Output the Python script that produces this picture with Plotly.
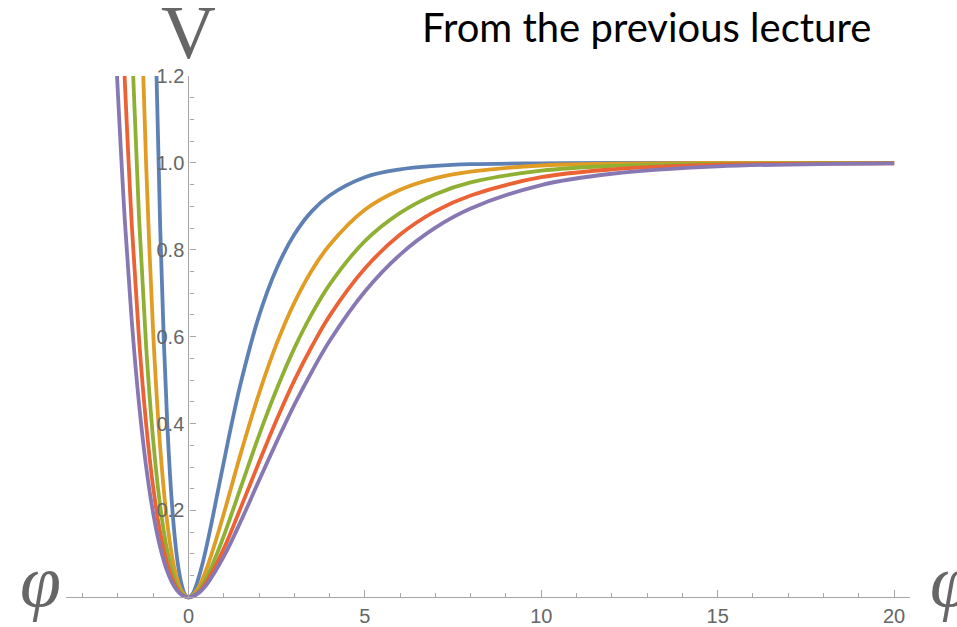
import plotly.graph_objects as go

# Values (phi, V) for the five curves
phi_1 = [-0.92, -0.8, -0.7, -0.6, -0.5, -0.4, -0.3, -0.2, -0.1, 0, 0.1, 0.2, 0.4, 0.6, 0.8, 1.0, 1.25, 1.5, 2, 2.5, 3, 3.5, 4, 5, 6, 7, 8, 10, 12, 15, 20]
V_1 = [1.254, 0.850, 0.595, 0.400, 0.254, 0.149, 0.077, 0.032, 0.007, 0, 0.006, 0.023, 0.078, 0.150, 0.230, 0.311, 0.409, 0.499, 0.648, 0.757, 0.835, 0.889, 0.925, 0.967, 0.985, 0.993, 0.997, 0.999, 1.0, 1.0, 1.0]

phi_2 = [-1.3, -1.2, -1.0, -0.8, -0.6, -0.4, -0.2, 0, 0.25, 0.5, 0.75, 1.0, 1.5, 2, 2.5, 3, 3.5, 4, 5, 6, 7, 8, 10, 12, 15, 20]
V_2 = [1.251, 0.999, 0.610, 0.345, 0.171, 0.068, 0.015, 0, 0.018, 0.063, 0.124, 0.192, 0.336, 0.469, 0.584, 0.678, 0.753, 0.811, 0.892, 0.938, 0.965, 0.980, 0.994, 0.998, 1.0, 1.0]

phi_3 = [-1.6, -1.4, -1.2, -1.0, -0.8, -0.6, -0.4, -0.2, 0, 0.25, 0.5, 0.75, 1.0, 1.5, 2, 2.5, 3, 3.5, 4, 5, 6, 7, 8, 10, 12, 15, 20]
V_3 = [1.268, 0.874, 0.579, 0.363, 0.210, 0.107, 0.043, 0.010, 0, 0.012, 0.044, 0.089, 0.141, 0.257, 0.373, 0.479, 0.573, 0.653, 0.720, 0.820, 0.885, 0.928, 0.955, 0.982, 0.993, 0.998, 1.0]

phi_4 = [-1.85, -1.6, -1.4, -1.2, -1.0, -0.8, -0.6, -0.4, -0.2, 0, 0.25, 0.5, 1.0, 1.5, 2, 2.5, 3, 3.5, 4, 5, 6, 7, 8, 10, 12, 15, 20]
V_4 = [1.273, 0.850, 0.595, 0.400, 0.254, 0.149, 0.077, 0.032, 0.007, 0, 0.009, 0.034, 0.112, 0.210, 0.311, 0.409, 0.499, 0.578, 0.648, 0.757, 0.835, 0.889, 0.925, 0.967, 0.985, 0.996, 0.999]

phi_5 = [-2.06, -1.8, -1.6, -1.4, -1.2, -1.0, -0.8, -0.6, -0.4, -0.2, 0, 0.25, 0.5, 1.0, 1.5, 2, 2.5, 3, 3.5, 4, 5, 6, 7, 8, 10, 12, 15, 20]
V_5 = [1.258, 0.864, 0.630, 0.445, 0.302, 0.194, 0.115, 0.060, 0.025, 0.006, 0, 0.008, 0.028, 0.094, 0.178, 0.269, 0.358, 0.443, 0.520, 0.590, 0.704, 0.789, 0.851, 0.895, 0.949, 0.975, 0.992, 0.999]

series = [(phi_1, V_1), (phi_2, V_2), (phi_3, V_3), (phi_4, V_4), (phi_5, V_5)]
colors = ["#5E81B5", "#E19C24", "#8FB032", "#EB6235", "#8778B3"]

x_range = [-3.47, 20.45]
y_range = [-0.006, 1.2]

fig = go.Figure()
for (xs, ys), c in zip(series, colors):
    fig.add_trace(go.Scatter(x=xs, y=ys, mode="lines",
                             line=dict(color=c, width=3.8, shape="spline"),
                             showlegend=False, hoverinfo="skip"))

axis_gray = "#a6a6a6"
label_gray = "#666666"
tick_font = dict(family="Liberation Sans, Arial", size=20, color=label_gray)

fig.update_layout(
    width=957, height=627,
    margin=dict(l=66, r=47, t=76, b=27, autoexpand=False),
    paper_bgcolor="white", plot_bgcolor="white",
    xaxis=dict(range=x_range, anchor="free", automargin=False,
               position=(0 - y_range[0]) / (y_range[1] - y_range[0]),
               showgrid=False, zeroline=False, showline=True,
               linecolor=axis_gray, linewidth=1.3,
               tick0=0, dtick=5, ticks="inside", ticklen=7, tickwidth=1.2,
               tickcolor=axis_gray, tickfont=tick_font, ticklabelstandoff=0,
               minor=dict(tick0=0, dtick=1, ticks="inside", ticklen=4,
                          tickwidth=1, tickcolor=axis_gray, showgrid=False)),
    yaxis=dict(range=y_range, anchor="free", automargin=False,
               position=(0 - x_range[0]) / (x_range[1] - x_range[0]),
               showgrid=False, zeroline=False, showline=True,
               linecolor=axis_gray, linewidth=1.3,
               tickmode="array",
               tickvals=[0.2, 0.4, 0.6, 0.8, 1.0, 1.2],
               ticktext=["0.2", "0.4", "0.6", "0.8", "1.0", "1.2"],
               ticks="inside", ticklen=6, tickwidth=1.2,
               tickcolor=axis_gray, tickfont=tick_font, ticklabelstandoff=0,
               minor=dict(tick0=0, dtick=0.05, ticks="inside", ticklen=4,
                          tickwidth=1, tickcolor=axis_gray, showgrid=False)),
)

fig.add_annotation(text="V", xref="x", x=0, yref="paper", y=1.0,
                   xanchor="center", yanchor="bottom", showarrow=False,
                   font=dict(family="Liberation Serif, Times New Roman", size=76, color=label_gray))
fig.add_annotation(text="φ", xref="paper", x=(40 - 66) / 844, yref="paper", y=0.036,
                   xanchor="center", yanchor="middle", showarrow=False,
                   font=dict(family="Liberation Serif, Times New Roman", size=74,
                             color=label_gray, style="italic"))
fig.add_annotation(text="φ", xref="paper", x=(950 - 66) / 844, yref="paper", y=0.036,
                   xanchor="center", yanchor="middle", showarrow=False,
                   font=dict(family="Liberation Serif, Times New Roman", size=74,
                             color=label_gray, style="italic"))
fig.add_annotation(text="From the previous lecture", xref="paper", x=(646 - 66) / 844,
                   yref="paper", y=(600 - 27) / 524,
                   xanchor="center", yanchor="middle", showarrow=False,
                   font=dict(family="Lato, Carlito, Calibri", size=40, color="black"))

fig.write_html("out.html")
